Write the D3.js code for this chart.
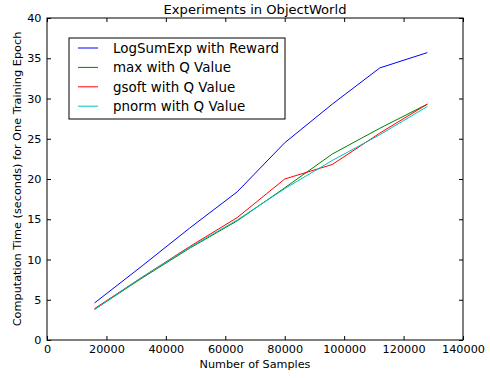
<!DOCTYPE html>
<html>
<head>
<meta charset="utf-8">
<script src="https://cdnjs.cloudflare.com/ajax/libs/d3/7.8.5/d3.min.js"></script>
<style>
  body { margin: 0; background: #fff; }
</style>
</head>
<body>
<div id="chart"></div>
<script>
// samples per run
var samples = [16000, 32000, 48000, 64000, 80000, 96000, 112000, 128000];

var logSumExpReward = [4.6, 9.2, 13.9, 18.4, 24.5, 29.3, 33.8, 35.7];
var maxQValue      = [3.8, 7.7, 11.4, 14.8, 18.9, 23.1, 26.3, 29.3];
var gsoftQValue    = [3.9, 7.8, 11.6, 15.2, 20.0, 21.8, 25.7, 29.3];
var pnormQValue    = [3.8, 7.8, 11.5, 14.9, 18.8, 22.3, 25.5, 29.0];

var seriesNames  = ['LogSumExp with Reward', 'max with Q Value', 'gsoft with Q Value', 'pnorm with Q Value'];
var seriesColors = ['#0000ff', '#008000', '#ff0000', '#00bfbf'];

var xTicks = [0, 20000, 40000, 60000, 80000, 100000, 120000, 140000];
var yTicks = [0, 5, 10, 15, 20, 25, 30, 35, 40];

var FONT = '"DejaVu Sans", sans-serif';

var W = 490, H = 378;
var m = {left: 47, right: 27, top: 18, bottom: 38};
var w = W - m.left - m.right, h = H - m.top - m.bottom;

// scale a font size so that a text node ends up as wide as the reference text
function fitSize(node, size, target) {
  var len = node.getComputedTextLength();
  return len > 0 ? size * target / len : size;
}

var svg = d3.select('#chart').append('svg')
  .attr('width', W)
  .attr('height', H);

var x = d3.scaleLinear().domain([0, 140000]).range([0, w]);
var y = d3.scaleLinear().domain([0, 40]).range([h, 0]);

var g = svg.append('g').attr('transform', 'translate(' + m.left + ',' + m.top + ')');

var allSeries = [logSumExpReward, maxQValue, gsoftQValue, pnormQValue];

var line = d3.line()
  .x(function(d, i) { return x(samples[i]); })
  .y(function(d) { return y(d); });

g.selectAll('path.series').data(allSeries)
  .enter()
    .append('path')
      .attr('class', 'series')
      .attr('d', line)
      .attr('fill', 'none')
      .attr('stroke', function(d, i) { return seriesColors[i]; })
      .attr('stroke-width', 1);

// ticks pointing inward, all four sides (classic matplotlib)
function styleAxis(sel) {
  sel.select('.domain').remove();
  sel.attr('font-family', null).attr('font-size', null);
  sel.selectAll('.tick line').attr('stroke', '#000').attr('stroke-width', 1);
  sel.selectAll('.tick text')
    .attr('fill', '#000')
    .style('font-size', '10.8px')
    .style('font-family', FONT);
}

var xAxisG = g.append('g')
  .attr('transform', 'translate(0,' + h + ')')
  .call(d3.axisBottom(x).tickValues(xTicks).tickFormat(d3.format('d')).tickSizeInner(-4).tickSizeOuter(0).tickPadding(5))
  .call(styleAxis);

g.append('g')
  .call(d3.axisTop(x).tickValues(xTicks).tickFormat('').tickSizeInner(-4).tickSizeOuter(0))
  .call(styleAxis);

var yAxisG = g.append('g')
  .call(d3.axisLeft(y).tickValues(yTicks).tickFormat(d3.format('d')).tickSizeInner(-4).tickSizeOuter(0).tickPadding(5.5))
  .call(styleAxis);

g.append('g')
  .attr('transform', 'translate(' + w + ',0)')
  .call(d3.axisRight(y).tickValues(yTicks).tickFormat('').tickSizeInner(-4).tickSizeOuter(0))
  .call(styleAxis);

// tick label size from the widest label ("140000" is ~43px wide)
var tickTexts = xAxisG.selectAll('.tick text').nodes();
var tickSize = fitSize(tickTexts[tickTexts.length - 1], 10.8, 43);
xAxisG.selectAll('.tick text').style('font-size', tickSize + 'px');
yAxisG.selectAll('.tick text').style('font-size', tickSize + 'px');

g.append('rect')
  .attr('width', w)
  .attr('height', h)
  .attr('fill', 'none')
  .attr('stroke', '#000')
  .attr('stroke-width', 1);

// labels
var title = svg.append('text')
  .attr('x', m.left + w / 2)
  .attr('y', 14)
  .attr('text-anchor', 'middle')
  .style('font-family', FONT)
  .style('font-size', '13px')
  .text('Experiments in ObjectWorld');
title.style('font-size', fitSize(title.node(), 13, 183) + 'px');

var xLabel = svg.append('text')
  .attr('x', m.left + w / 2)
  .attr('y', 368)
  .attr('text-anchor', 'middle')
  .style('font-family', FONT)
  .style('font-size', '10.8px')
  .text('Number of Samples');
xLabel.style('font-size', fitSize(xLabel.node(), 10.8, 111) + 'px');

var yLabel = svg.append('text')
  .attr('transform', 'translate(21,' + (m.top + h / 2) + ') rotate(-90)')
  .attr('text-anchor', 'middle')
  .style('font-family', FONT)
  .style('font-size', '10.8px')
  .text('Computation Time (seconds) for One Training Epoch');
yLabel.style('font-size', fitSize(yLabel.node(), 10.8, 295) + 'px');

// legend
var legend = svg.append('g').attr('transform', 'translate(69,38)');
legend.append('rect')
  .attr('width', 216)
  .attr('height', 81)
  .attr('fill', '#fff')
  .attr('stroke', '#000')
  .attr('stroke-width', 1);

var items = legend.selectAll('g.item').data(seriesNames)
  .enter()
    .append('g')
      .attr('class', 'item')
      .attr('transform', function(d, i) { return 'translate(0,' + (10 + i * 19.4) + ')'; });

items.append('line')
  .attr('x1', 9).attr('x2', 29)
  .attr('stroke', function(d, i) { return seriesColors[i]; })
  .attr('stroke-width', 1);

var legendTexts = items.append('text')
  .attr('x', 44)
  .attr('dy', '0.36em')
  .style('font-family', FONT)
  .style('font-size', '13.4px')
  .text(function(d) { return d; });
var legendSize = fitSize(legendTexts.nodes()[0], 13.4, 166);
legendTexts.style('font-size', legendSize + 'px');
</script>
</body>
</html>
